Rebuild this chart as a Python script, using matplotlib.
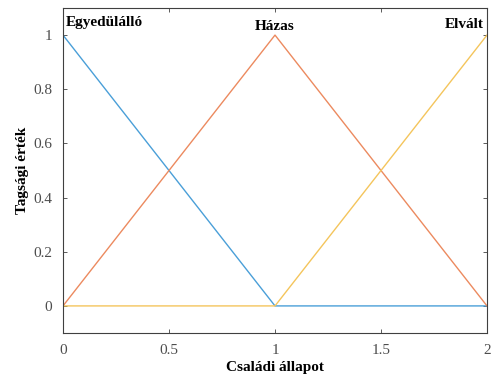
import matplotlib
matplotlib.use("Agg")
import matplotlib.pyplot as plt

x = [0, 1, 2]
egyedulallo = [1, 0, 0]
hazas = [0, 1, 0]
elvalt = [0, 0, 1]
xticks = [0, 0.5, 1, 1.5, 2]
xticklabels = ["0", "0.5", "1", "1.5", "2"]
yticks = [0, 0.2, 0.4, 0.6, 0.8, 1]
yticklabels = ["0", "0.2", "0.4", "0.6", "0.8", "1"]

plt.rcParams['font.family'] = ['Liberation Serif', 'DejaVu Serif']

fig = plt.figure(figsize=(4.94, 3.78), dpi=100)
ax = fig.add_axes([63/494, 1-333/378, (487-63)/494, (333-8)/378])

ax.plot(x, egyedulallo, color='#4a9fd8', lw=1.0)
ax.plot(x, hazas, color='#ec8a5f', lw=1.0)
ax.plot(x, elvalt, color='#f4c55c', lw=1.0)

ax.set_xlim(0, 2)
ax.set_ylim(-0.1, 1.1)
ax.set_xticks(xticks)
ax.set_xticklabels(xticklabels)
ax.set_yticks(yticks)
ax.set_yticklabels(yticklabels)
ax.tick_params(direction='in', top=True, right=True, labelsize=11, colors='#404040',
               labelcolor='#4d4d4d', length=3, width=0.6, pad=8)
for s in ax.spines.values():
    s.set_color('#404040')
    s.set_linewidth(0.8)

ax.set_xlabel('Családi állapot', fontsize=11, fontweight='bold', labelpad=3)
ax.set_ylabel('Tagsági érték', fontsize=11, fontweight='bold', labelpad=3)

ax.text(0.012, 1.045, 'Egyedülálló', fontsize=11, fontweight='bold', ha='left', va='center')
ax.text(1.0, 1.032, 'Házas', fontsize=11, fontweight='bold', ha='center', va='center')
ax.text(1.985, 1.04, 'Elvált', fontsize=11, fontweight='bold', ha='right', va='center')

fig.savefig('out.png', dpi=100)
